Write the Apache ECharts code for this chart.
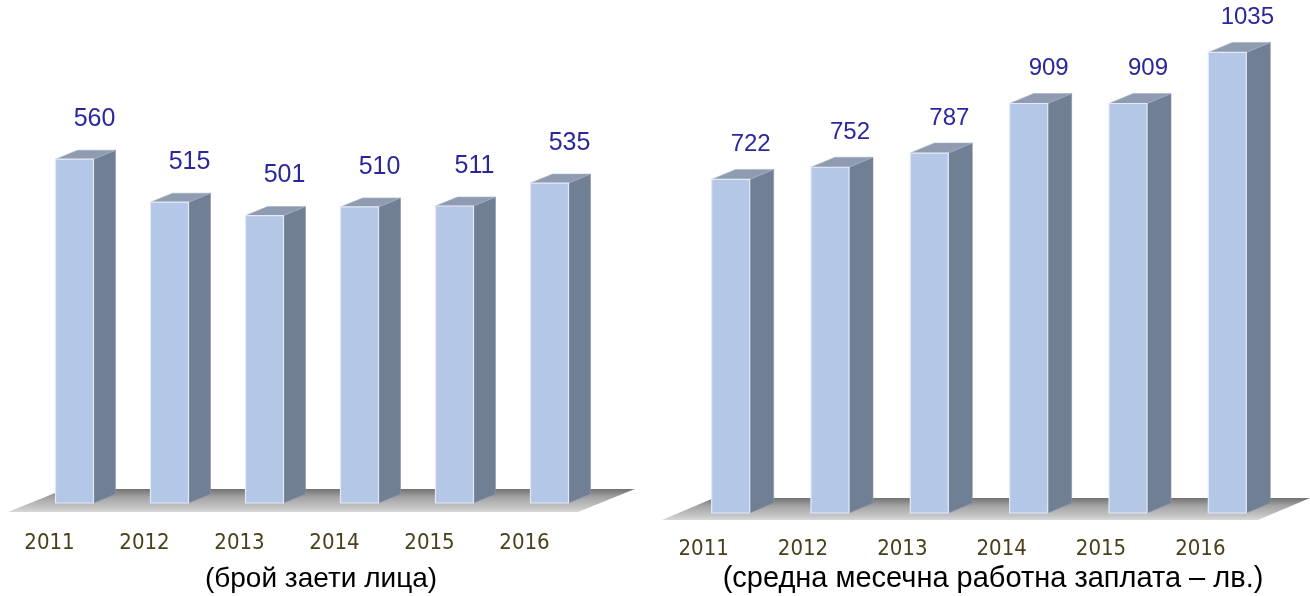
<!DOCTYPE html>
<html>
<head>
<meta charset="utf-8">
<script src="https://cdn.jsdelivr.net/npm/echarts@6/dist/echarts.min.js"></script>
<style>
  html, body { margin: 0; padding: 0; background: #fff; }
  #chart { width: 1310px; height: 596px; }
</style>
</head>
<body>
<div id="chart"></div>
<script>
// data
const years = ['2011', '2012', '2013', '2014', '2015', '2016'];
const employed = [560, 515, 501, 510, 511, 535];   // брой заети лица
const salary = [722, 752, 787, 909, 909, 1035];    // средна месечна заплата, лв.

const FONT = "'Liberation Sans', Arial, sans-serif";
const NARROW = "'Liberation Sans Narrow', 'DejaVu Sans Condensed', 'Liberation Sans', Arial, sans-serif";

// left and right panel settings (axis ranges + 3d look)
const L = { min: 200, max: 600, w: 38, dx: 22, dy: 9, labelUp: 40, labelRight: 20, fontSize: 25, floorDrop: 9, floorDx: 57, floorDy: 23 };
const R = { min: -100, max: 1100, w: 38, dx: 24, dy: 10, labelUp: 35, labelRight: 20, fontSize: 24, floorDrop: 7, floorDx: 52, floorDy: 22 };

// one 3d column: front face, side, top and value label
function bar3d(cfg) {
    return function (params, api) {
        const base = api.coord([api.value(0), cfg.min]);
        const top = api.coord([api.value(0), api.value(1)]);
        const x = base[0];
        const yb = base[1], yt = top[1];
        const w = cfg.w, dx = cfg.dx, dy = cfg.dy;
        return {
            type: 'group',
            children: [
                {
                    type: 'polygon',
                    shape: { points: [[x + w, yt], [x + w + dx, yt - dy], [x + w + dx, yb - dy], [x + w, yb]] },
                    style: { fill: '#717f95', stroke: '#8a96aa', lineWidth: 0.6 }
                },
                {
                    type: 'polygon',
                    shape: { points: [[x, yt], [x + dx, yt - dy], [x + w + dx, yt - dy], [x + w, yt]] },
                    style: { fill: '#8f9bb1', stroke: '#a6b0c2', lineWidth: 0.6 }
                },
                {
                    type: 'rect',
                    shape: { x: x, y: yt, width: w, height: yb - yt },
                    style: { fill: '#b4c7e7', stroke: '#e3eaf6', lineWidth: 1.2 }
                },
                {
                    type: 'text',
                    x: x + w / 2 + cfg.labelRight,
                    y: yt - cfg.labelUp,
                    style: {
                        text: String(api.value(1)),
                        fill: '#2a279c',
                        font: cfg.fontSize + 'px ' + FONT,
                        textAlign: 'center',
                        textVerticalAlign: 'middle'
                    }
                }
            ]
        };
    };
}

// grey floor under the columns, built from the category axis
function floor(cfg) {
    return function (params, api) {
        const p0 = api.coord([0, cfg.min]);
        const band = api.size([1, 0])[0];
        const left = p0[0] - band / 2;
        const right = left + years.length * band;
        const y = p0[1] + cfg.floorDrop;
        return {
            type: 'polygon',
            shape: { points: [[left, y], [right, y], [right + cfg.floorDx, y - cfg.floorDy], [left + cfg.floorDx, y - cfg.floorDy]] },
            style: {
                fill: {
                    type: 'linear', x: 0, y: 0, x2: 0, y2: 1,
                    colorStops: [
                        { offset: 0, color: '#727272' },
                        { offset: 0.35, color: '#a3a3a3' },
                        { offset: 0.8, color: '#c4c4c4' },
                        { offset: 1, color: '#d8d8d8' }
                    ]
                }
            }
        };
    };
}

const chart = echarts.init(document.getElementById('chart'));

const xLabel = (pad, margin) => ({
    color: '#4a3f1a',
    fontSize: 22,
    fontFamily: NARROW,
    margin: margin,
    padding: [0, pad, 0, 0],
    verticalAlign: 'top'
});

chart.setOption({
    animation: false,
    grid: [
        { left: 8, width: 570, top: 121, bottom: 93 },
        { left: 662, width: 596, top: 26, bottom: 83 }
    ],
    xAxis: [
        { type: 'category', gridIndex: 0, data: years, axisLine: { show: false }, axisTick: { show: false }, axisLabel: xLabel(12, 29) },
        { type: 'category', gridIndex: 1, data: years, axisLine: { show: false }, axisTick: { show: false }, axisLabel: xLabel(16, 25) }
    ],
    yAxis: [
        { type: 'value', gridIndex: 0, min: L.min, max: L.max, show: false },
        { type: 'value', gridIndex: 1, min: R.min, max: R.max, show: false }
    ],
    graphic: [
        { type: 'text', x: 321, y: 579, style: { text: '(брой заети лица)', font: '28px ' + FONT, fill: '#000', textAlign: 'center', textVerticalAlign: 'middle' } },
        { type: 'text', x: 993, y: 579, style: { text: '(средна месечна работна заплата – лв.)', font: '29px ' + FONT, fill: '#000', textAlign: 'center', textVerticalAlign: 'middle' } }
    ],
    series: [
        { type: 'custom', xAxisIndex: 0, yAxisIndex: 0, z: 1, silent: true, renderItem: floor(L), data: [[0, L.min]] },
        { type: 'custom', xAxisIndex: 1, yAxisIndex: 1, z: 1, silent: true, renderItem: floor(R), data: [[0, R.min]] },
        { type: 'custom', xAxisIndex: 0, yAxisIndex: 0, z: 2, renderItem: bar3d(L), encode: { x: 0, y: 1 }, data: employed.map((v, i) => [i, v]) },
        { type: 'custom', xAxisIndex: 1, yAxisIndex: 1, z: 2, renderItem: bar3d(R), encode: { x: 0, y: 1 }, data: salary.map((v, i) => [i, v]) }
    ]
});
</script>
</body>
</html>
